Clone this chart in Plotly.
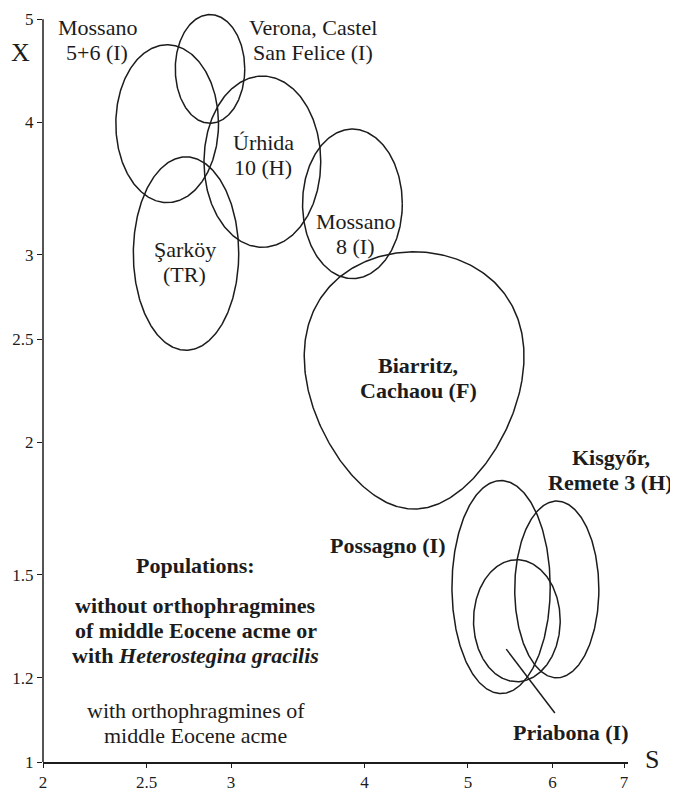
import math
import numpy as np
import plotly.graph_objects as go

# ---------------- data ----------------
populations = ["Mossano 5+6 (I)", "Verona, Castel San Felice (I)", "Úrhida 10 (H)",
               "Şarköy (TR)", "Mossano 8 (I)", "Biarritz, Cachaou (F)",
               "Possagno (I)", "Kisgyőr, Remete 3 (H)", "Priabona (I)"]
s_min = [2.34, 2.66, 2.83, 2.43, 3.50, 3.52, 4.83, 5.53, 5.06]
s_max = [2.92, 3.09, 3.64, 3.05, 4.34, 5.63, 5.97, 6.63, 6.10]
x_min = [3.36, 3.99, 3.05, 2.44, 2.85, 1.73, 1.16, 1.20, 1.19]
x_max = [4.73, 5.05, 4.42, 3.71, 3.94, 3.02, 1.84, 1.76, 1.55]
egg = [0, 0, 0, 0, 0, 0.2, 0, 0, 0]

label_text = ["Mossano<br>5+6 (I)", "Verona, Castel<br>San Felice (I)", "Úrhida<br>10 (H)",
              "Şarköy<br>(TR)", "Mossano<br>8 (I)", "<b>Biarritz,</b><br><b>Cachaou (F)</b>",
              "<b>Possagno (I)</b>", "<b>Kisgyőr,</b><br><b>Remete 3 (H)</b>", "<b>Priabona (I)</b>"]
label_s = [2.247, 3.579, 3.214, 2.716, 3.919, 4.490, 4.209, 6.80, 6.244]
label_x = [4.778, 4.778, 3.725, 2.957, 3.142, 2.300, 1.600, 1.883, 1.067]

leader_s = [5.43, 6.03]
leader_x = [1.277, 1.112]

x_ticks = [2, 2.5, 3, 4, 5, 6, 7]
y_ticks = [1, 1.2, 1.5, 2, 2.5, 3, 4, 5]

legend_s = 2.781
legend_lines = ["<b>Populations:</b>",
                "<b>without orthophragmines</b><br><b>of middle Eocene acme or</b><br><b>with <i>Heterostegina gracilis</i></b>",
                "with orthophragmines of<br>middle Eocene acme"]
legend_x = [1.532, 1.331, 1.089]

# ---------------- figure ----------------
FONT = "Liberation Serif, Times New Roman, serif"
INK = "#1c1c1c"
FS = 22          # label font size
LS = 25          # line spacing (px)
x_range = [math.log10(2), math.log10(7.06)]
y_range = [0, math.log10(5.10)]

fig = go.Figure()

t = np.linspace(0, 2 * np.pi, 361)
for i, name in enumerate(populations):
    lx0, lx1 = math.log10(s_min[i]), math.log10(s_max[i])
    ly0, ly1 = math.log10(x_min[i]), math.log10(x_max[i])
    cx, a = (lx0 + lx1) / 2, (lx1 - lx0) / 2
    cy, b = (ly0 + ly1) / 2, (ly1 - ly0) / 2
    k = egg[i]
    px = cx + a * np.cos(t) * (1 + k * np.sin(t)) / (1 + k * k / 4)
    py = cy + b * np.sin(t)
    fig.add_trace(go.Scatter(x=10 ** px, y=10 ** py, mode="lines", name=name,
                             line=dict(color=INK, width=1.5), hoverinfo="name",
                             showlegend=False))

fig.add_trace(go.Scatter(x=leader_s, y=leader_x, mode="lines",
                         line=dict(color=INK, width=1.5), showlegend=False,
                         hoverinfo="skip"))


def add_block(text, s, x):
    lines = text.split("<br>")
    n = len(lines)
    for j, ln in enumerate(lines):
        fig.add_annotation(x=math.log10(s), y=math.log10(x), text=ln, showarrow=False,
                           xref="x", yref="y", yshift=((n - 1) / 2 - j) * LS,
                           xanchor="center", yanchor="middle",
                           font=dict(family=FONT, size=FS, color=INK), align="center")


for txt, s, x in zip(label_text, label_s, label_x):
    add_block(txt, s, x)

for txt, x in zip(legend_lines, legend_x):
    add_block(txt, legend_s, x)

# axis titles
fig.add_annotation(x=-0.039, y=0.943, xref="paper", yref="paper", text="X",
                   xanchor="center", yanchor="middle",
                   showarrow=False, font=dict(family=FONT, size=26, color=INK))
fig.add_annotation(x=1.041, y=0.003, xref="paper", yref="paper", text="S",
                   xanchor="center", yanchor="middle",
                   showarrow=False, font=dict(family=FONT, size=26, color=INK))

# y axis line from 1 to 5
fig.add_shape(type="line", xref="paper", yref="paper", x0=0, x1=0, y0=0,
              y1=math.log10(5) / y_range[1], line=dict(color=INK, width=1.5))

fig.update_xaxes(type="log", range=x_range, tickvals=x_ticks, automargin=False,
                 ticktext=[str(v) for v in x_ticks], showgrid=False, zeroline=False,
                 showline=True, linecolor=INK, linewidth=1.5, ticks="outside",
                 ticklen=4, tickcolor=INK, tickfont=dict(family=FONT, size=17, color=INK))
fig.update_yaxes(type="log", range=y_range, tickvals=y_ticks, automargin=False,
                 ticktext=[str(v) for v in y_ticks], showgrid=False, zeroline=False,
                 showline=False, ticks="outside", ticklen=5, tickcolor=INK,
                 tickfont=dict(family=FONT, size=17, color=INK))

# page body has an 8px margin, so the figure is 670x784 and offset by 8px
fig.update_layout(width=670, height=784,
                  margin=dict(l=35, r=50, t=2, b=30, autoexpand=False),
                  paper_bgcolor="white", plot_bgcolor="white", showlegend=False)

fig.write_html("out.html")
